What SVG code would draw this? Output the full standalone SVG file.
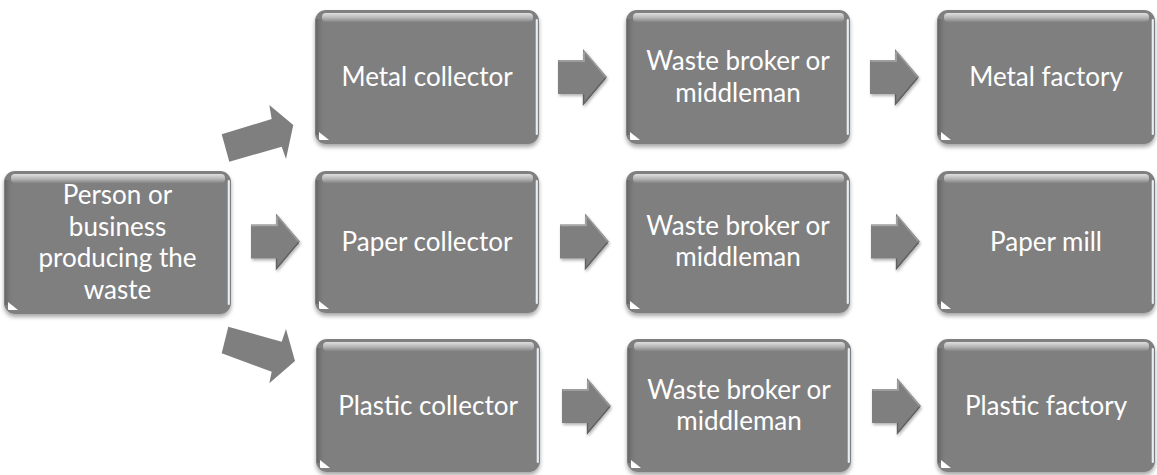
<svg xmlns="http://www.w3.org/2000/svg" xmlns:xlink="http://www.w3.org/1999/xlink" width="1157" height="475" viewBox="0 0 1157 475">
<style>
  .box{fill:#7f7f7f;filter:url(#sh);}
  .hl{fill:url(#gHl);}
  .el{fill:url(#gL);}
  .er{stroke:#e4ecf4;stroke-width:2.2;fill:none;stroke-linecap:round;}
  .cn{fill:#ffffff;}
  .t{font-family:Lato,"Open Sans","Liberation Sans",sans-serif;font-size:26px;fill:#ffffff;text-anchor:middle;}
  .flat{fill:#7f7f7f;}
</style>
<defs>
  <filter id="sh" x="-10%" y="-10%" width="120%" height="125%">
    <feGaussianBlur in="SourceAlpha" stdDeviation="2"/>
    <feOffset dx="0" dy="3" result="b"/>
    <feComponentTransfer><feFuncA type="linear" slope="0.35"/></feComponentTransfer>
    <feMerge><feMergeNode/><feMergeNode in="SourceGraphic"/></feMerge>
  </filter>
  <filter id="ash" x="-20%" y="-20%" width="150%" height="150%">
    <feGaussianBlur in="SourceAlpha" stdDeviation="1.5"/>
    <feOffset dx="1" dy="2"/>
    <feComponentTransfer><feFuncA type="linear" slope="0.3"/></feComponentTransfer>
    <feMerge><feMergeNode/><feMergeNode in="SourceGraphic"/></feMerge>
  </filter>
  <linearGradient id="gHl" x1="0" y1="0" x2="0" y2="1">
    <stop offset="0" stop-color="#ffffff" stop-opacity="0.75"/>
    <stop offset="0.5" stop-color="#ffffff" stop-opacity="0.45"/>
    <stop offset="1" stop-color="#ffffff" stop-opacity="0.05"/>
  </linearGradient>
  <linearGradient id="gL" x1="0" y1="0" x2="1" y2="0">
    <stop offset="0" stop-color="#5e5e5e" stop-opacity="0.8"/>
    <stop offset="1" stop-color="#7f7f7f" stop-opacity="0"/>
  </linearGradient>
  <g id="arr" filter="url(#ash)">
    <path d="M0,-17 H25 V-28 L49,0 L25,28 V17 H0 Z" fill="#7f7f7f"/>
    <path d="M0.5,-16 H26 V-25" fill="none" stroke="#a8a8a8" stroke-width="1.5"/>
    <path d="M26,-26 L47.5,0" fill="none" stroke="#9a9a9a" stroke-width="1.2"/>
    <path d="M47.5,1 L25.5,27 V17" fill="none" stroke="#606060" stroke-width="1.4"/>
  </g>
</defs>
<rect width="1157" height="475" fill="#ffffff"/>

<g id="connectors">
  <polygon class="flat" points="221.7,134.3 271.7,119 269.3,105 293.3,125 286,159 281.7,146.7 229.3,161.7"/>
  <polygon class="flat" points="228.3,326.7 281.7,341.7 286,329 295,361 269.3,383.3 271.7,371.7 221.7,353.3"/>
  <use xlink:href="#arr" x="251" y="241.5"/>
  <use xlink:href="#arr" x="558" y="77"/>
  <use xlink:href="#arr" x="870" y="77"/>
  <use xlink:href="#arr" x="560" y="241.5"/>
  <use xlink:href="#arr" x="871" y="241.5"/>
  <use xlink:href="#arr" x="562" y="406"/>
  <use xlink:href="#arr" x="872" y="406"/>
</g>

<g id="n-person">
  <rect class="box" x="4" y="171" width="227" height="143" rx="11"/>
  <rect class="el" x="5" y="180" width="9" height="125"/>
  <rect class="hl" x="11" y="174" width="214" height="9" rx="4"/>
  <path class="er" d="M228.8,181 V304"/>
  <path class="cn" d="M8,302 V309 Q8,310 9,310 H18 Z"/>
  <text class="t"><tspan x="117.5" y="204">Person or</tspan><tspan x="117.5" y="235.5">business</tspan><tspan x="117.5" y="267">producing the</tspan><tspan x="117.5" y="298.5">waste</tspan></text>
</g>

<g id="n-metal-collector">
  <rect class="box" x="315" y="10" width="224" height="134" rx="11"/>
  <rect class="el" x="316" y="19" width="9" height="116"/>
  <rect class="hl" x="322" y="13" width="211" height="9" rx="4"/>
  <path class="er" d="M536.8,20 V134"/>
  <path class="cn" d="M319,132 V139 Q319,140 320,140 H329 Z"/>
  <text class="t" x="427" y="86">Metal collector</text>
</g>

<g id="n-paper-collector">
  <rect class="box" x="315" y="171" width="224" height="142" rx="11"/>
  <rect class="el" x="316" y="180" width="9" height="124"/>
  <rect class="hl" x="322" y="174" width="211" height="9" rx="4"/>
  <path class="er" d="M536.8,181 V303"/>
  <path class="cn" d="M319,301 V308 Q319,309 320,309 H329 Z"/>
  <text class="t" x="427" y="250.5">Paper collector</text>
</g>

<g id="n-plastic-collector">
  <rect class="box" x="316" y="339" width="224" height="133" rx="11"/>
  <rect class="el" x="317" y="348" width="9" height="115"/>
  <rect class="hl" x="323" y="342" width="211" height="9" rx="4"/>
  <path class="er" d="M537.8,349 V462"/>
  <path class="cn" d="M320,460 V467 Q320,468 321,468 H330 Z"/>
  <text class="t" x="428" y="415">Plastic collector</text>
</g>

<g id="n-broker-1">
  <rect class="box" x="626" y="10" width="224" height="134" rx="11"/>
  <rect class="el" x="627" y="19" width="9" height="116"/>
  <rect class="hl" x="633" y="13" width="211" height="9" rx="4"/>
  <path class="er" d="M847.8,20 V134"/>
  <path class="cn" d="M630,132 V139 Q630,140 631,140 H640 Z"/>
  <text class="t"><tspan x="738" y="70">Waste broker or</tspan><tspan x="738" y="101.5">middleman</tspan></text>
</g>

<g id="n-broker-2">
  <rect class="box" x="626" y="171" width="224" height="142" rx="11"/>
  <rect class="el" x="627" y="180" width="9" height="124"/>
  <rect class="hl" x="633" y="174" width="211" height="9" rx="4"/>
  <path class="er" d="M847.8,181 V303"/>
  <path class="cn" d="M630,301 V308 Q630,309 631,309 H640 Z"/>
  <text class="t"><tspan x="738" y="234.5">Waste broker or</tspan><tspan x="738" y="266">middleman</tspan></text>
</g>

<g id="n-broker-3">
  <rect class="box" x="627" y="339" width="224" height="133" rx="11"/>
  <rect class="el" x="628" y="348" width="9" height="115"/>
  <rect class="hl" x="634" y="342" width="211" height="9" rx="4"/>
  <path class="er" d="M848.8,349 V462"/>
  <path class="cn" d="M631,460 V467 Q631,468 632,468 H641 Z"/>
  <text class="t"><tspan x="739" y="398.5">Waste broker or</tspan><tspan x="739" y="430">middleman</tspan></text>
</g>

<g id="n-metal-factory">
  <rect class="box" x="937" y="10" width="218" height="134" rx="11"/>
  <rect class="el" x="938" y="19" width="9" height="116"/>
  <rect class="hl" x="944" y="13" width="205" height="9" rx="4"/>
  <path class="er" d="M1152.8,20 V134"/>
  <path class="cn" d="M941,132 V139 Q941,140 942,140 H951 Z"/>
  <text class="t" x="1046" y="86">Metal factory</text>
</g>

<g id="n-paper-mill">
  <rect class="box" x="937" y="171" width="218" height="142" rx="11"/>
  <rect class="el" x="938" y="180" width="9" height="124"/>
  <rect class="hl" x="944" y="174" width="205" height="9" rx="4"/>
  <path class="er" d="M1152.8,181 V303"/>
  <path class="cn" d="M941,301 V308 Q941,309 942,309 H951 Z"/>
  <text class="t" x="1046" y="250.5">Paper mill</text>
</g>

<g id="n-plastic-factory">
  <rect class="box" x="937" y="339" width="218" height="133" rx="11"/>
  <rect class="el" x="938" y="348" width="9" height="115"/>
  <rect class="hl" x="944" y="342" width="205" height="9" rx="4"/>
  <path class="er" d="M1152.8,349 V462"/>
  <path class="cn" d="M941,460 V467 Q941,468 942,468 H951 Z"/>
  <text class="t" x="1046" y="415">Plastic factory</text>
</g>
</svg>
